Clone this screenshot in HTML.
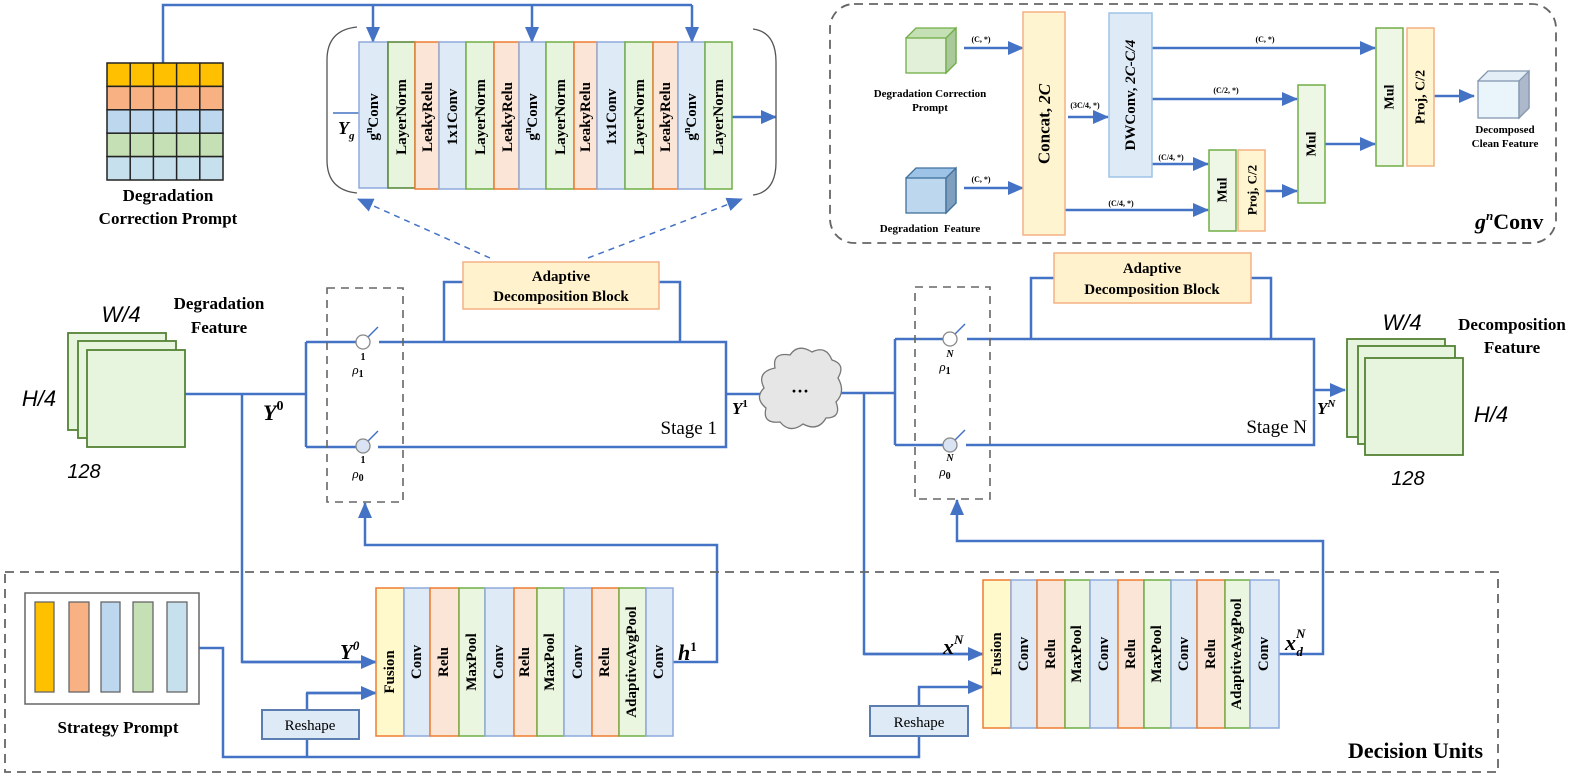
<!DOCTYPE html>
<html><head><meta charset="utf-8"><style>
html,body{margin:0;padding:0;background:#fff;}
svg{display:block;}
text{font-family:"Liberation Serif",serif;}
.b{font-weight:bold;}
.s{font-family:"Liberation Sans",sans-serif;}
</style></head><body>
<svg width="1578" height="778" viewBox="0 0 1578 778" xmlns="http://www.w3.org/2000/svg">
<defs>
<marker id="a" markerUnits="userSpaceOnUse" markerWidth="16" markerHeight="14" refX="15" refY="7" orient="auto"><path d="M0,0 L16,7 L0,14 z" fill="#4472C4"/></marker>
<marker id="as" markerUnits="userSpaceOnUse" markerWidth="12" markerHeight="10" refX="11" refY="5" orient="auto"><path d="M0,0 L12,5 L0,10 z" fill="#4472C4"/></marker>
</defs>
<g fill="none" stroke="#4472C4" stroke-width="2.5">
<!-- top feed -->
<path d="M163,63 V5 H692"/>
<path d="M373,5 V42" marker-end="url(#a)"/>
<path d="M532,5 V42" marker-end="url(#a)"/>
<path d="M692,5 V42" marker-end="url(#a)"/>
<path d="M333,113 H359" stroke-width="1.5"/>
<path d="M732,117 H776" marker-end="url(#a)"/>
<!-- dashed arrows -->
<path d="M490,258 L358,199" stroke-dasharray="6,5" stroke-width="1.5" marker-end="url(#a)"/>
<path d="M588,258 L742,199" stroke-dasharray="6,5" stroke-width="1.5" marker-end="url(#a)"/>
<!-- stage 1 -->
<path d="M185,394 H306 M242,394 V662 H376" />
<path d="M306,342 V447 M306,342 H356 M306,447 H356"/>
<path d="M379,342 H726 V447 H378 M726,394 H762"/>
<path d="M444,342 V282 H463 M659,282 H680 V342"/>
<path d="M376,693 H306 M307,739 V693" />
<path d="M307,693 H376" marker-end="url(#a)"/>
<path d="M242,662 H376" marker-end="url(#a)"/>
<path d="M673,662 H717 V545 H365 V503" marker-end="url(#a)"/>
<!-- stage N -->
<path d="M840,393 H895 M864,393 V654 H983" />
<path d="M864,654 H983" marker-end="url(#a)"/>
<path d="M895,339 V445 M895,339 H943 M895,445 H943"/>
<path d="M967,339 H1314 V445 H966"/>
<path d="M1031,339 V278 H1054 M1251,278 H1271 V339"/>
<path d="M1314,390 H1345" marker-end="url(#a)"/>
<path d="M1279,654 H1323 V541 H957 V500" marker-end="url(#a)"/>
<path d="M199,648 H223 V757 H919 V736 M307,757 V739"/>
<path d="M919,706 V687 H983" marker-end="url(#a)"/>
<!-- gnConv arrows -->
<path d="M964,48 H1023" marker-end="url(#a)"/>
<path d="M964,188 H1023" marker-end="url(#a)"/>
<path d="M1068,117 H1108" marker-end="url(#a)"/>
<path d="M1152,48 H1375" marker-end="url(#a)"/>
<path d="M1152,99 H1297" marker-end="url(#a)"/>
<path d="M1152,164 H1208" marker-end="url(#a)"/>
<path d="M1065,210 H1208" marker-end="url(#a)"/>
<path d="M1265,191 H1297" marker-end="url(#a)"/>
<path d="M1325,144 H1375" marker-end="url(#a)"/>
<path d="M1434,96 H1474" marker-end="url(#a)"/>
</g>

<!-- grid -->
<g stroke="#222" stroke-width="1.5">
<rect x="107" y="63" width="116" height="23.4" fill="#FFC000"/>
<rect x="107" y="86.4" width="116" height="23.4" fill="#F8B183"/>
<rect x="107" y="109.8" width="116" height="23.4" fill="#BDD7EE"/>
<rect x="107" y="133.2" width="116" height="23.4" fill="#C5E0B4"/>
<rect x="107" y="156.6" width="116" height="23.4" fill="#C7E0EE"/>
<path d="M130.2,63 V180 M153.4,63 V180 M176.6,63 V180 M199.8,63 V180"/>
</g>
<text x="168" y="201" font-size="17" class="b" text-anchor="middle">Degradation</text>
<text x="168" y="224" font-size="17" class="b" text-anchor="middle">Correction Prompt</text>

<!-- brackets -->
<path d="M357,27 Q327,30 327,60 V160 Q327,190 357,193" fill="none" stroke="#555" stroke-width="1.3"/>
<path d="M753,29 Q776,32 776,62 V162 Q776,192 753,195" fill="none" stroke="#555" stroke-width="1.3"/>
<text x="338" y="134" font-size="18" class="b" font-style="italic">Y<tspan font-size="11" dy="5">g</tspan></text>

<!-- top block columns -->
<g stroke-width="1.5" font-size="15" font-weight="bold">
<rect x="359" y="42" width="29" height="146" fill="#DEEBF7" stroke="#8FAADC"/>
<rect x="388" y="42" width="27" height="146" fill="#E8F5DE" stroke="#548235"/>
<rect x="415" y="42" width="24" height="147" fill="#FBE5D6" stroke="#ED7D31"/>
<rect x="439" y="42" width="27" height="147" fill="#DEEBF7" stroke="#8FAADC"/>
<rect x="466" y="42" width="28" height="147" fill="#E8F5DE" stroke="#70AD47"/>
<rect x="494" y="42" width="25" height="147" fill="#FBE5D6" stroke="#ED7D31"/>
<rect x="519" y="42" width="27" height="147" fill="#DEEBF7" stroke="#8FAADC"/>
<rect x="546" y="42" width="28" height="147" fill="#E8F5DE" stroke="#70AD47"/>
<rect x="574" y="42" width="23" height="147" fill="#FBE5D6" stroke="#ED7D31"/>
<rect x="597" y="42" width="28" height="147" fill="#DEEBF7" stroke="#8FAADC"/>
<rect x="625" y="42" width="28" height="147" fill="#E8F5DE" stroke="#70AD47"/>
<rect x="653" y="42" width="25" height="147" fill="#FBE5D6" stroke="#ED7D31"/>
<rect x="678" y="42" width="27" height="147" fill="#DEEBF7" stroke="#8FAADC"/>
<rect x="705" y="42" width="27" height="147" fill="#E8F5DE" stroke="#70AD47"/>
</g>
<g font-size="15" font-weight="bold" text-anchor="middle">
<text transform="translate(378,117) rotate(-90)">g<tspan font-size="10" dy="-6">n</tspan><tspan dy="6">Conv</tspan></text>
<text transform="translate(406,117) rotate(-90)">LayerNorm</text>
<text transform="translate(432,117) rotate(-90)">LeakyRelu</text>
<text transform="translate(457,117) rotate(-90)">1x1Conv</text>
<text transform="translate(485,117) rotate(-90)">LayerNorm</text>
<text transform="translate(512,117) rotate(-90)">LeakyRelu</text>
<text transform="translate(537,117) rotate(-90)">g<tspan font-size="10" dy="-6">n</tspan><tspan dy="6">Conv</tspan></text>
<text transform="translate(565,117) rotate(-90)">LayerNorm</text>
<text transform="translate(590,117) rotate(-90)">LeakyRelu</text>
<text transform="translate(616,117) rotate(-90)">1x1Conv</text>
<text transform="translate(644,117) rotate(-90)">LayerNorm</text>
<text transform="translate(670,117) rotate(-90)">LeakyRelu</text>
<text transform="translate(696,117) rotate(-90)">g<tspan font-size="10" dy="-6">n</tspan><tspan dy="6">Conv</tspan></text>
<text transform="translate(723,117) rotate(-90)">LayerNorm</text>
</g>

<!-- gnConv panel -->
<rect x="830" y="4" width="726" height="239" rx="24" fill="none" stroke="#666" stroke-width="1.8" stroke-dasharray="9,6"/>
<!-- cubes -->
<g stroke-width="1.3">
<path d="M906,38 L916,28 H956 V63 L946,73 Z" fill="#C5E0B4" stroke="#70AD47"/>
<rect x="906" y="38" width="40" height="35" fill="#E2F0D9" stroke="#70AD47"/>
<path d="M946,38 L956,28 V63 L946,73 Z" fill="#A9C99A" stroke="#70AD47"/>
<path d="M906,178 L916,168 H956 V203 L946,213 Z" fill="#9DC3E6" stroke="#41719C"/>
<rect x="906" y="178" width="40" height="35" fill="#BDD7EE" stroke="#41719C"/>
<path d="M946,178 L956,168 V203 L946,213 Z" fill="#7F9FBF" stroke="#41719C"/>
<path d="M1478,81 L1488,71 H1529 V108 L1519,118 Z" fill="#E4EEF6" stroke="#8497B0"/>
<rect x="1478" y="81" width="41" height="37" fill="#EAF4FB" stroke="#8497B0"/>
<path d="M1519,81 L1529,71 V108 L1519,118 Z" fill="#ADB9CA" stroke="#8497B0"/>
</g>
<g font-size="11" class="b" text-anchor="middle" font-weight="bold">
<text x="930" y="97">Degradation Correction</text>
<text x="930" y="111">Prompt</text>
<text x="930" y="232">Degradation&#160; Feature</text>
<text x="1505" y="133">Decomposed</text>
<text x="1505" y="147">Clean Feature</text>
</g>
<g font-size="8" font-weight="bold" text-anchor="middle">
<text x="981" y="42">(C, *)</text>
<text x="981" y="182">(C, *)</text>
<text x="1085" y="108">(3C/4, *)</text>
<text x="1265" y="42">(C, *)</text>
<text x="1226" y="93">(C/2, *)</text>
<text x="1171" y="160">(C/4, *)</text>
<text x="1121" y="206">(C/4, *)</text>
</g>
<g stroke-width="1.5">
<rect x="1023" y="12" width="42" height="223" fill="#FEF4D0" stroke="#F4B183"/>
<rect x="1109" y="13" width="43" height="164" fill="#DEEBF7" stroke="#9DC3E6"/>
<rect x="1209" y="150" width="27" height="81" fill="#EEF6E6" stroke="#70AD47"/>
<rect x="1238" y="150" width="27" height="81" fill="#FFF5D0" stroke="#F4B183"/>
<rect x="1298" y="85" width="27" height="118" fill="#EEF6E6" stroke="#70AD47"/>
<rect x="1376" y="28" width="27" height="138" fill="#EEF6E6" stroke="#70AD47"/>
<rect x="1407" y="28" width="27" height="138" fill="#FFF5D0" stroke="#F4B183"/>
</g>
<g font-weight="bold" text-anchor="middle" dominant-baseline="central">
<text transform="translate(1044,124) rotate(-90)" font-size="17">Concat, <tspan font-style="italic">2C</tspan></text>
<text transform="translate(1131,95) rotate(-90)" font-size="15">DWConv, <tspan font-style="italic">2C-C/4</tspan></text>
<text transform="translate(1223,190) rotate(-90)" font-size="14">Mul</text>
<text transform="translate(1252,190) rotate(-90)" font-size="13">Proj, C/2</text>
<text transform="translate(1312,144) rotate(-90)" font-size="14">Mul</text>
<text transform="translate(1390,97) rotate(-90)" font-size="14">Mul</text>
<text transform="translate(1421,97) rotate(-90)" font-size="14">Proj, C/2</text>
</g>
<text x="1475" y="229" font-size="22" font-weight="bold"><tspan font-style="italic">g</tspan><tspan font-size="13" dy="-9" font-style="italic">n</tspan><tspan dy="9">Conv</tspan></text>

<!-- Degradation feature stack -->
<g stroke="#548235" stroke-width="1.8" fill="#E8F5DE">
<rect x="68" y="333" width="98" height="97"/>
<rect x="78" y="341" width="98" height="97"/>
<rect x="87" y="350" width="98" height="97"/>
</g>
<text x="121" y="322" class="s" font-size="22" font-style="italic" text-anchor="middle">W/4</text>
<text x="39" y="406" class="s" font-size="22" font-style="italic" text-anchor="middle">H/4</text>
<text x="84" y="478" class="s" font-size="20" font-style="italic" text-anchor="middle">128</text>
<text x="219" y="309" font-size="17" font-weight="bold" text-anchor="middle">Degradation</text>
<text x="219" y="333" font-size="17" font-weight="bold" text-anchor="middle">Feature</text>
<text x="263" y="420" font-size="22" font-weight="bold" font-style="italic">Y<tspan font-size="14" dy="-10" font-style="normal">0</tspan></text>

<!-- dashed switch boxes -->
<rect x="327" y="288" width="76" height="214" fill="none" stroke="#666" stroke-width="1.6" stroke-dasharray="8,6"/>
<rect x="915" y="287" width="75" height="212" fill="none" stroke="#666" stroke-width="1.6" stroke-dasharray="8,6"/>
<g stroke="#4472C4" stroke-width="1.5">
<line x1="368" y1="337" x2="378" y2="327"/><line x1="368" y1="441" x2="378" y2="431"/>
<line x1="955" y1="334" x2="965" y2="324"/><line x1="955" y1="440" x2="965" y2="430"/>
</g>
<g stroke="#888" stroke-width="1.3">
<circle cx="363" cy="342" r="7" fill="#fff"/>
<circle cx="363" cy="446" r="7" fill="#DAE3F3"/>
<circle cx="950" cy="339" r="7" fill="#fff"/>
<circle cx="950" cy="445" r="7" fill="#DAE3F3"/>
</g>
<g font-size="11" class="s" text-anchor="middle">
<text x="363" y="360" font-weight="bold" font-size="10">1</text>
<text x="358" y="374" font-style="italic" font-size="13">ρ<tspan font-size="10" dy="3" font-style="normal" font-weight="bold">1</tspan></text>
<text x="363" y="463" font-weight="bold" font-size="10">1</text>
<text x="358" y="478" font-style="italic" font-size="13">ρ<tspan font-size="10" dy="3" font-style="normal" font-weight="bold">0</tspan></text>
<text x="950" y="357" font-weight="bold" font-style="italic" font-size="10">N</text>
<text x="945" y="371" font-style="italic" font-size="13">ρ<tspan font-size="10" dy="3" font-style="normal" font-weight="bold">1</tspan></text>
<text x="950" y="461" font-weight="bold" font-style="italic" font-size="10">N</text>
<text x="945" y="476" font-style="italic" font-size="13">ρ<tspan font-size="10" dy="3" font-style="normal" font-weight="bold">0</tspan></text>
</g>

<!-- ADBs -->
<rect x="463" y="262" width="196" height="47" fill="#FFF2CC" stroke="#F4B183" stroke-width="1.5"/>
<text x="561" y="281" font-size="15" font-weight="bold" text-anchor="middle">Adaptive</text>
<text x="561" y="301" font-size="15" font-weight="bold" text-anchor="middle">Decomposition Block</text>
<rect x="1054" y="253" width="197" height="50" fill="#FFF2CC" stroke="#F4B183" stroke-width="1.5"/>
<text x="1152" y="273" font-size="15" font-weight="bold" text-anchor="middle">Adaptive</text>
<text x="1152" y="294" font-size="15" font-weight="bold" text-anchor="middle">Decomposition Block</text>

<text x="717" y="434" font-size="19" text-anchor="end">Stage 1</text>
<text x="1307" y="433" font-size="19" text-anchor="end">Stage N</text>
<text x="732" y="414" font-size="17" font-weight="bold" font-style="italic">Y<tspan font-size="11" dy="-7" font-style="normal">1</tspan></text>
<text x="1317" y="414" font-size="17" font-weight="bold" font-style="italic">Y<tspan font-size="11" dy="-7">N</tspan></text>

<!-- cloud -->
<path d="M775,368 Q772,352 790,355 Q798,343 812,352 Q826,345 832,360 Q846,364 838,378 Q846,392 836,402 Q842,418 826,418 Q818,432 803,424 Q790,434 780,422 Q762,424 766,408 Q754,398 764,388 Q756,372 775,368 Z" fill="#E6E6E6" stroke="#777" stroke-width="1.3"/>
<text x="800" y="397" font-size="18" text-anchor="middle" font-weight="bold">···</text>

<!-- decomposition stack -->
<g stroke="#548235" stroke-width="1.8" fill="#E8F5DE">
<rect x="1347" y="339" width="98" height="98"/>
<rect x="1358" y="346" width="97" height="98"/>
<rect x="1365" y="358" width="98" height="97"/>
</g>
<text x="1402" y="330" class="s" font-size="22" font-style="italic" text-anchor="middle">W/4</text>
<text x="1512" y="330" font-size="17" font-weight="bold" text-anchor="middle">Decomposition</text>
<text x="1512" y="353" font-size="17" font-weight="bold" text-anchor="middle">Feature</text>
<text x="1491" y="422" class="s" font-size="22" font-style="italic" text-anchor="middle">H/4</text>
<text x="1408" y="485" class="s" font-size="20" font-style="italic" text-anchor="middle">128</text>

<!-- decision units box -->
<rect x="5" y="572" width="1493" height="200" fill="none" stroke="#666" stroke-width="1.8" stroke-dasharray="9,6"/>
<text x="1483" y="758" font-size="22" font-weight="bold" text-anchor="end">Decision Units</text>
<rect x="25" y="593" width="174" height="111" fill="#fff" stroke="#666" stroke-width="1.5"/>
<g stroke="#666" stroke-width="1.3">
<rect x="35" y="602" width="19" height="90" fill="#FFC000"/>
<rect x="69" y="602" width="20" height="90" fill="#F8B183"/>
<rect x="101" y="602" width="19" height="90" fill="#BDD7EE"/>
<rect x="133" y="602" width="20" height="90" fill="#C5E0B4"/>
<rect x="167" y="602" width="20" height="90" fill="#C7E0EE"/>
</g>
<text x="118" y="733" font-size="17" font-weight="bold" text-anchor="middle">Strategy Prompt</text>
<rect x="262" y="710" width="97" height="29" fill="#DEEBF7" stroke="#5B7DB0" stroke-width="2"/>
<text x="310" y="730" font-size="15" text-anchor="middle">Reshape</text>
<rect x="870" y="706" width="98" height="30" fill="#DEEBF7" stroke="#5B7DB0" stroke-width="2"/>
<text x="919" y="727" font-size="15" text-anchor="middle">Reshape</text>
<text x="340" y="659" font-size="21" font-weight="bold" font-style="italic">Y<tspan font-size="13" dy="-9">0</tspan></text>
<text x="678" y="660" font-size="22" font-weight="bold" font-style="italic">h<tspan font-size="13" dy="-9" font-style="normal">1</tspan></text>
<text x="943" y="654" font-size="22" font-weight="bold" font-style="italic">x<tspan font-size="13" dy="-10">N</tspan></text>
<text x="1285" y="650" font-size="22" font-weight="bold" font-style="italic">x<tspan font-size="13" dy="-12">N</tspan><tspan font-size="13" dx="-9" dy="18">d</tspan></text>

<!-- decision block 1 -->
<g stroke-width="1.5">
<rect x="376" y="588" width="28" height="148" fill="#FFF9CC" stroke="#ED7D31"/>
<rect x="404" y="588" width="26" height="148" fill="#DEEBF7" stroke="#8FAADC"/>
<rect x="430" y="588" width="29" height="148" fill="#FBE5D6" stroke="#ED7D31"/>
<rect x="459" y="588" width="26" height="148" fill="#EBF6E0" stroke="#70AD47"/>
<rect x="485" y="588" width="29" height="148" fill="#DEEBF7" stroke="#8FAADC"/>
<rect x="514" y="588" width="23" height="148" fill="#FBE5D6" stroke="#ED7D31"/>
<rect x="537" y="588" width="27" height="148" fill="#EBF6E0" stroke="#70AD47"/>
<rect x="564" y="588" width="28" height="148" fill="#DEEBF7" stroke="#8FAADC"/>
<rect x="592" y="588" width="27" height="148" fill="#FBE5D6" stroke="#ED7D31"/>
<rect x="619" y="588" width="27" height="148" fill="#EBF6E0" stroke="#70AD47"/>
<rect x="646" y="588" width="27" height="148" fill="#DEEBF7" stroke="#8FAADC"/>
</g>
<g stroke-width="1.5">
<rect x="983" y="580" width="28" height="148" fill="#FFF9CC" stroke="#ED7D31"/>
<rect x="1011" y="580" width="26" height="148" fill="#DEEBF7" stroke="#8FAADC"/>
<rect x="1037" y="580" width="28" height="148" fill="#FBE5D6" stroke="#ED7D31"/>
<rect x="1065" y="580" width="25" height="148" fill="#EBF6E0" stroke="#70AD47"/>
<rect x="1090" y="580" width="28" height="148" fill="#DEEBF7" stroke="#8FAADC"/>
<rect x="1118" y="580" width="26" height="148" fill="#FBE5D6" stroke="#ED7D31"/>
<rect x="1144" y="580" width="27" height="148" fill="#EBF6E0" stroke="#70AD47"/>
<rect x="1171" y="580" width="26" height="148" fill="#DEEBF7" stroke="#8FAADC"/>
<rect x="1197" y="580" width="28" height="148" fill="#FBE5D6" stroke="#ED7D31"/>
<rect x="1225" y="580" width="25" height="148" fill="#EBF6E0" stroke="#70AD47"/>
<rect x="1250" y="580" width="29" height="148" fill="#DEEBF7" stroke="#8FAADC"/>
</g>
<g font-size="15" font-weight="bold" text-anchor="middle" dominant-baseline="central">
<text transform="translate(390,672) rotate(-90)">Fusion</text>
<text transform="translate(417,662) rotate(-90)">Conv</text>
<text transform="translate(444,662) rotate(-90)">Relu</text>
<text transform="translate(472,662) rotate(-90)">MaxPool</text>
<text transform="translate(499,662) rotate(-90)">Conv</text>
<text transform="translate(525,662) rotate(-90)">Relu</text>
<text transform="translate(550,662) rotate(-90)">MaxPool</text>
<text transform="translate(578,662) rotate(-90)">Conv</text>
<text transform="translate(605,662) rotate(-90)">Relu</text>
<text transform="translate(632,662) rotate(-90)">AdaptiveAvgPool</text>
<text transform="translate(659,662) rotate(-90)">Conv</text>
<text transform="translate(997,654) rotate(-90)">Fusion</text>
<text transform="translate(1024,654) rotate(-90)">Conv</text>
<text transform="translate(1051,654) rotate(-90)">Relu</text>
<text transform="translate(1077,654) rotate(-90)">MaxPool</text>
<text transform="translate(1104,654) rotate(-90)">Conv</text>
<text transform="translate(1131,654) rotate(-90)">Relu</text>
<text transform="translate(1157,654) rotate(-90)">MaxPool</text>
<text transform="translate(1184,654) rotate(-90)">Conv</text>
<text transform="translate(1211,654) rotate(-90)">Relu</text>
<text transform="translate(1237,654) rotate(-90)">AdaptiveAvgPool</text>
<text transform="translate(1264,654) rotate(-90)">Conv</text>
</g>
</svg>
</body></html>
